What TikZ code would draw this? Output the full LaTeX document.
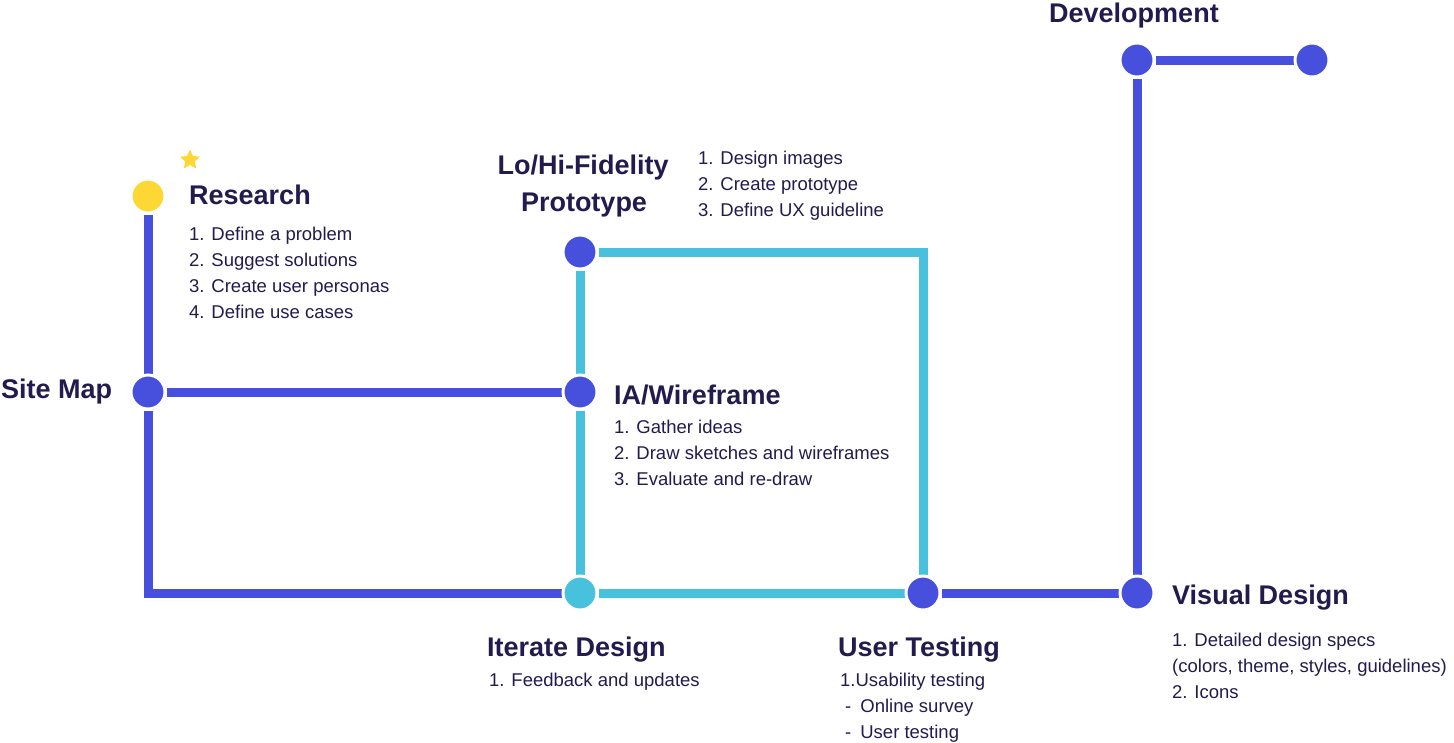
\documentclass[tikz,border=0pt]{standalone}
\usepackage{fontspec}
\setmainfont{Liberation Sans}
\usetikzlibrary{shapes.geometric}
\definecolor{lineblue}{HTML}{4650DC}
\definecolor{linecyan}{HTML}{47C1DC}
\definecolor{dotyellow}{HTML}{FDD835}
\definecolor{ink}{HTML}{231B4D}
\tikzset{
  dot/.style={circle, minimum size=34pt, inner sep=0pt, fill=#1, draw=white, line width=3pt},
  dot/.default=lineblue,
  bluelink/.style={draw=lineblue, line width=9pt},
  cyanlink/.style={draw=linecyan, line width=9pt},
  heading/.style={anchor=base west, inner sep=0pt, text=ink, font=\fontsize{27}{30}\selectfont\bfseries},
  item/.style={anchor=base west, inner sep=0pt, text=ink, font=\fontsize{18.5}{22}\selectfont},
}
\begin{document}
\begin{tikzpicture}[x=1pt, y=-1pt]
\useasboundingbox[fill=white] (0,0) rectangle (1454,742);
% dot positions
\coordinate (pres) at (148,196);
\coordinate (psite) at (148,392);
\coordinate (pia) at (580,392);
\coordinate (pproto) at (580,252);
\coordinate (piter) at (580,593);
\coordinate (put) at (923,593);
\coordinate (pvd) at (1137,593);
\coordinate (pdev) at (1137,60);
\coordinate (pend) at (1312,60);
% dots (defined first, drawn later)
\path
  node[dot=dotyellow] (res) at (pres) {}
  node[dot] (site) at (psite) {}
  node[dot] (ia) at (pia) {}
  node[dot] (proto) at (pproto) {}
  node[dot=linecyan] (iter) at (piter) {}
  node[dot] (ut) at (put) {}
  node[dot] (vd) at (pvd) {}
  node[dot] (dev) at (pdev) {}
  node[dot] (fin) at (pend) {};
% connectors
\draw[bluelink] (res) -- (site);
\draw[bluelink] (site) |- (iter);
\draw[bluelink] (site) -- (ia);
\draw[cyanlink] (ia) -- (proto);
\draw[cyanlink] (ia) -- (iter);
\draw[cyanlink] (proto) -| (ut);
\draw[cyanlink] (iter) -- (ut);
\draw[bluelink] (ut) -- (vd);
\draw[bluelink] (vd) -- (dev);
\draw[bluelink] (dev) -- (fin);
% redraw dots on top
\path
  node[dot=dotyellow] at (pres) {}
  node[dot] at (psite) {}
  node[dot] at (pia) {}
  node[dot] at (pproto) {}
  node[dot=linecyan] at (piter) {}
  node[dot] at (put) {}
  node[dot] at (pvd) {}
  node[dot] at (pdev) {}
  node[dot] at (pend) {};
% star
\node[star, star points=5, star point ratio=2.1, minimum size=21pt, inner sep=0pt, fill=dotyellow] (star) at (190,160) {};
% headings
\node[heading] (hres) at (189,204) {Research};
\node[heading] (hsite) at (1,398) {Site Map};
\node[heading, anchor=base] (hproto1) at (583,174) {Lo/Hi-Fidelity};
\node[heading, anchor=base] (hproto2) at (584,211) {Prototype};
\node[heading] (hia) at (614,404) {IA/Wireframe};
\node[heading] (hiter) at (487,656) {Iterate Design};
\node[heading] (hut) at (838,656) {User Testing};
\node[heading] (hvd) at (1172,604) {Visual Design};
\node[heading] (hdev) at (1049,22) {Development};
% lists
\node[item] (r1) at (189,240) {1. Define a problem};
\node[item] (r2) at (189,266) {2. Suggest solutions};
\node[item] (r3) at (189,292) {3. Create user personas};
\node[item] (r4) at (189,318) {4. Define use cases};
\node[item] (p1) at (698,164) {1. Design images};
\node[item] (p2) at (698,190) {2. Create prototype};
\node[item] (p3) at (698,216) {3. Define UX guideline};
\node[item] (i1) at (614,433) {1. Gather ideas};
\node[item] (i2) at (614,459) {2. Draw sketches and wireframes};
\node[item] (i3) at (614,485) {3. Evaluate and re-draw};
\node[item] (it1) at (489,686) {1. Feedback and updates};
\node[item] (u1) at (840,686) {1.Usability testing};
\node[item] (u2) at (845,712) {-\hspace{9pt}Online survey};
\node[item] (u3) at (845,738) {-\hspace{9pt}User testing};
\node[item] (v1) at (1172,646) {1. Detailed design specs};
\node[item] (v2) at (1172,672) {(colors, theme, styles, guidelines)};
\node[item] (v3) at (1172,698) {2. Icons};
\end{tikzpicture}
\end{document}
